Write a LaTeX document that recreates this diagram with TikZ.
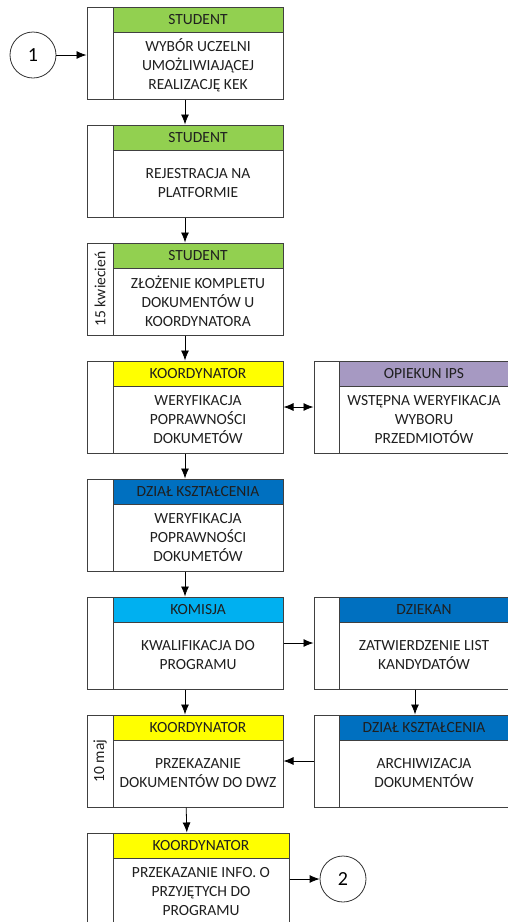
\documentclass[tikz,border=0pt]{standalone}
\usepackage{fontspec}
\setmainfont{Carlito}
\usetikzlibrary{arrows.meta}
\definecolor{zielony}{HTML}{92D050}
\definecolor{zolty}{HTML}{FFFF00}
\definecolor{fiolet}{HTML}{A699C2}
\definecolor{granat}{HTML}{0070C0}
\definecolor{blekit}{HTML}{00B0F0}
\begin{document}
\begin{tikzpicture}
    [x=1pt,y=-1pt,
     box/.style={rectangle,draw=black!75,line width=1pt,inner sep=0pt,minimum width=196pt,minimum height=92pt},
     head/.style={rectangle,draw=black!75,line width=1pt,inner sep=0pt,minimum width=170pt,minimum height=25pt,text=black!88,font=\fontsize{15.5}{19}\selectfont},
     body/.style={rectangle,draw=black!75,line width=1pt,inner sep=0pt,minimum width=170pt,minimum height=67pt,align=center,text=black!88,font=\fontsize{15.5}{19}\selectfont},
     side/.style={rotate=90,text=black!88,font=\fontsize{15.5}{19}\selectfont},
     conn/.style={circle,draw=black!80,line width=0.8pt,minimum size=46pt,inner sep=0pt,font=\fontsize{20}{20}\selectfont},
     arr/.style={-{Latex[length=10pt,width=8pt]},line width=0.8pt},
     arr2/.style={{Latex[length=10pt,width=8pt]}-{Latex[length=10pt,width=8pt]},line width=0.8pt}]
    \useasboundingbox (0,0) rectangle (508,922);

    % lewa kolumna
    \node[box] (A) at (185,53) {};
    \node[head,fill=zielony] (Ah) at (198,19.5) {STUDENT};
    \node[body] (Ab) at (198,65.5) {WYBÓR UCZELNI\\UMOŻLIWIAJĄCEJ\\REALIZACJĘ KEK};

    \node[box] (B) at (185,171) {};
    \node[head,fill=zielony] (Bh) at (198,137.5) {STUDENT};
    \node[body] (Bb) at (198,183.5) {REJESTRACJA NA\\PLATFORMIE};

    \node[box] (C) at (185,289) {};
    \node[head,fill=zielony] (Ch) at (198,255.5) {STUDENT};
    \node[body] (Cb) at (198,301.5) {ZŁOŻENIE KOMPLETU\\DOKUMENTÓW U\\KOORDYNATORA};
    \node[side] (Cd) at (100,289) {15 kwiecień};

    \node[box] (D) at (185,407) {};
    \node[head,fill=zolty] (Dh) at (198,373.5) {KOORDYNATOR};
    \node[body] (Db) at (198,419.5) {WERYFIKACJA\\POPRAWNOŚCI\\DOKUMETÓW};

    \node[box] (E) at (185,525) {};
    \node[head,fill=granat] (Eh) at (198,491.5) {DZIAŁ KSZTAŁCENIA};
    \node[body] (Eb) at (198,537.5) {WERYFIKACJA\\POPRAWNOŚCI\\DOKUMETÓW};

    \node[box] (F) at (185,643) {};
    \node[head,fill=blekit] (Fh) at (198,609.5) {KOMISJA};
    \node[body] (Fb) at (198,655.5) {KWALIFIKACJA DO\\PROGRAMU};

    \node[box] (G) at (185,761) {};
    \node[head,fill=zolty] (Gh) at (198,727.5) {KOORDYNATOR};
    \node[body] (Gb) at (198,773.5) {PRZEKAZANIE\\DOKUMENTÓW DO DWZ};
    \node[side] (Gd) at (100,761) {10 maj};

    \node[box,minimum width=202pt] (H) at (188,879) {};
    \node[head,fill=zolty,minimum width=176pt] (Hh) at (201,845.5) {KOORDYNATOR};
    \node[body,minimum width=176pt] (Hb) at (201,891.5) {PRZEKAZANIE INFO. O\\PRZYJĘTYCH DO\\PROGRAMU};

    % prawa kolumna
    \node[box] (P) at (412,407) {};
    \node[head,fill=fiolet] (Ph) at (424,373.5) {OPIEKUN IPS};
    \node[body] (Pb) at (424,419.5) {WSTĘPNA WERYFIKACJA\\WYBORU\\PRZEDMIOTÓW};

    \node[box] (Q) at (412,643) {};
    \node[head,fill=granat] (Qh) at (424,609.5) {DZIEKAN};
    \node[body] (Qb) at (424,655.5) {ZATWIERDZENIE LIST\\KANDYDATÓW};

    \node[box] (R) at (412,761) {};
    \node[head,fill=granat] (Rh) at (424,727.5) {DZIAŁ KSZTAŁCENIA};
    \node[body] (Rb) at (424,773.5) {ARCHIWIZACJA\\DOKUMENTÓW};

    % lączniki
    \node[conn] (K1) at (33,55) {1};
    \node[conn] (K2) at (343,879) {2};

    \draw[arr] (K1) -- (K1 -| A.west);
    \draw[arr] (A) -- (B);
    \draw[arr] (B) -- (C);
    \draw[arr] (C) -- (D);
    \draw[arr] (D) -- (E);
    \draw[arr] (E) -- (F);
    \draw[arr] (F) -- (G);
    \draw[arr] (G) -- (H);
    \draw[arr2] (D.east) -- (P.west);
    \draw[arr] (F.east) -- (Q.west);
    \draw[arr] (Q.south -| 415,0) -- (R.north -| 415,0);
    \draw[arr] (R.west) -- (G.east);
    \draw[arr] (H.east) -- (K2);
\end{tikzpicture}
\end{document}
